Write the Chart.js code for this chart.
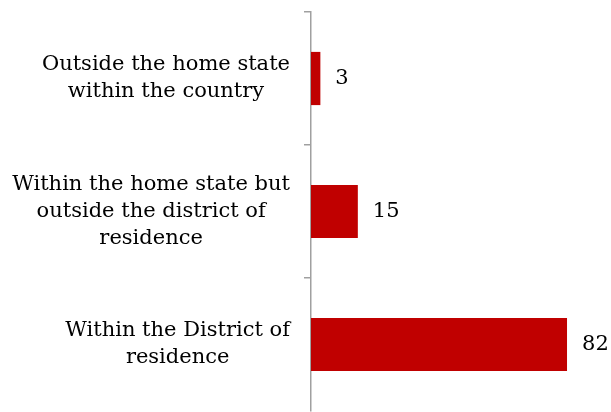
<!DOCTYPE html>
<html>
<head>
<meta charset="utf-8">
<script src="https://cdn.jsdelivr.net/npm/chart.js@4/dist/chart.umd.min.js"></script>
<style>
  html, body { margin: 0; padding: 0; background: #fff; }
  #wrap { width: 611px; height: 412px; }
</style>
</head>
<body>
<div id="wrap"><canvas id="placeChart"></canvas></div>
<script>
(function() {
  const categories = [
    ['Outside the home state', 'within the country'],
    ['Within the home state but', 'outside the district of', 'residence'],
    ['Within the District of', 'residence']
  ];
  const shares = [3, 15, 82];

  const FONT = '"DejaVu Serif", "Liberation Serif", serif';
  const FONT_SIZE = 21;
  const LINE_H = 27;
  const AXIS_GREY = '#a0a0a0';

  // category labels: block right-aligned to the axis, lines centred inside the block
  const sideLabels = {
    id: 'sideLabels',
    afterDraw(chart) {
      const ctx = chart.ctx;
      const y = chart.scales.y;
      const rightEdge = y.right - 21;
      ctx.save();
      ctx.font = FONT_SIZE + 'px ' + FONT;
      ctx.fillStyle = '#000';
      ctx.textAlign = 'center';
      ctx.textBaseline = 'middle';
      categories.forEach((lines, i) => {
        const widest = Math.max(...lines.map(l => ctx.measureText(l).width));
        const cx = rightEdge - widest / 2;
        const cy = y.getPixelForValue(i);
        const top = cy - (lines.length - 1) * LINE_H / 2;
        lines.forEach((l, j) => ctx.fillText(l, cx, top + j * LINE_H));
      });
      ctx.restore();
    }
  };

  // value labels to the right of each bar
  const valueLabels = {
    id: 'valueLabels',
    afterDatasetsDraw(chart) {
      const ctx = chart.ctx;
      const meta = chart.getDatasetMeta(0);
      ctx.save();
      ctx.font = FONT_SIZE + 'px ' + FONT;
      ctx.fillStyle = '#000';
      ctx.textAlign = 'left';
      ctx.textBaseline = 'middle';
      meta.data.forEach((bar, i) => {
        ctx.fillText(String(shares[i]), bar.x + 15, bar.y);
      });
      ctx.restore();
    }
  };

  new Chart(document.getElementById('placeChart'), {
    type: 'bar',
    data: {
      labels: categories,
      datasets: [{
        data: shares,
        backgroundColor: '#C00000',
        borderColor: '#C00000',
        borderWidth: 0,
        barPercentage: 0.4,
        categoryPercentage: 1
      }]
    },
    options: {
      indexAxis: 'y',
      responsive: true,
      maintainAspectRatio: false,
      animation: false,
      layout: { padding: { top: 12, bottom: 1, right: 19, left: 0 } },
      plugins: {
        legend: { display: false },
        tooltip: { enabled: false }
      },
      scales: {
        x: {
          display: false,
          min: 0,
          max: 90
        },
        y: {
          ticks: { display: false },
          grid: {
            offset: true,
            drawOnChartArea: false,
            drawTicks: true,
            tickLength: 7,
            // no tick mark on the closing boundary at the bottom
            color: c => (c.index === undefined ? 'rgba(0,0,0,0)' : AXIS_GREY),
            lineWidth: 1.5
          },
          border: { display: true, color: AXIS_GREY, width: 1.5 },
          afterFit(scale) { scale.width = 311; }
        }
      }
    },
    plugins: [sideLabels, valueLabels]
  });
})();
</script>
</body>
</html>
